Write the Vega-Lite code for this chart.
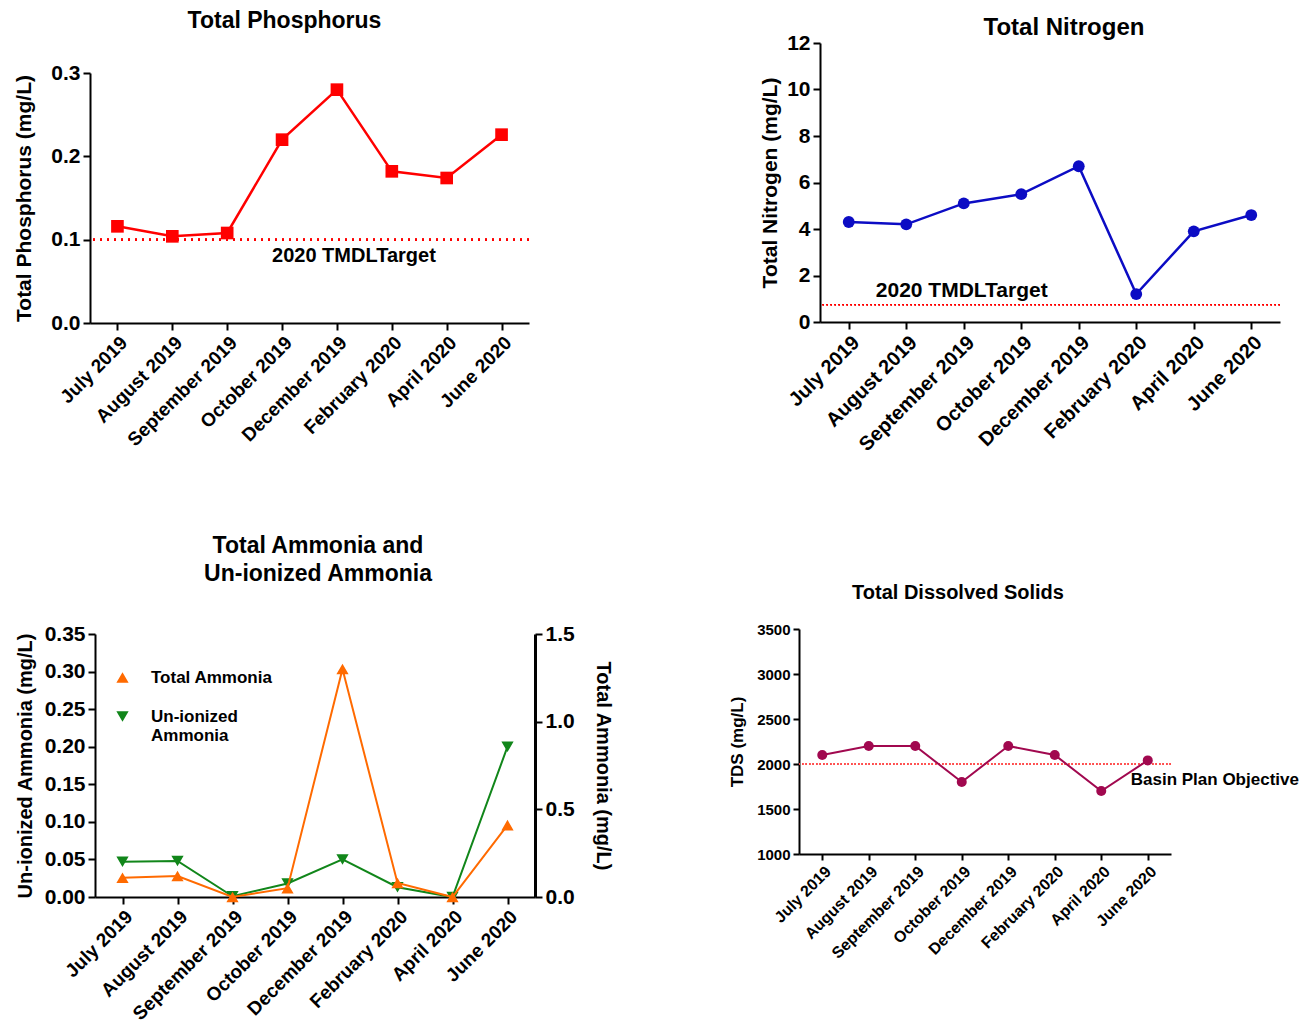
{
  "$schema": "https://vega.github.io/schema/vega-lite/v6.json",
  "autosize": {"type": "none"},
  "padding": {"left": 90, "top": 43, "right": 1225, "bottom": 980},
  "background": "white",
  "config": {
    "font": "Liberation Sans",
    "view": {"stroke": null},
    "axis": {"domainColor": "black", "domainWidth": 2, "tickColor": "black", "tickWidth": 2, "tickSize": 7, "labelColor": "black", "labelFontWeight": "bold", "titleColor": "black", "titleFontWeight": "bold", "grid": false, "labelPadding": 3},
    "title": {"fontWeight": "bold", "color": "black", "anchor": "middle"}
  },
  "datasets": {
    "tp": [
      {"month": "July 2019", "tp": 0.116},
      {"month": "August 2019", "tp": 0.104},
      {"month": "September 2019", "tp": 0.108},
      {"month": "October 2019", "tp": 0.22},
      {"month": "December 2019", "tp": 0.28},
      {"month": "February 2020", "tp": 0.182},
      {"month": "April 2020", "tp": 0.174},
      {"month": "June 2020", "tp": 0.226}
    ],
    "tn": [
      {"month": "July 2019", "tn": 4.3},
      {"month": "August 2019", "tn": 4.2},
      {"month": "September 2019", "tn": 5.1},
      {"month": "October 2019", "tn": 5.5},
      {"month": "December 2019", "tn": 6.7},
      {"month": "February 2020", "tn": 1.2},
      {"month": "April 2020", "tn": 3.9},
      {"month": "June 2020", "tn": 4.6}
    ],
    "amm": [
      {"month": "July 2019", "series": "Un-ionized Ammonia", "value": 0.047},
      {"month": "August 2019", "series": "Un-ionized Ammonia", "value": 0.048},
      {"month": "September 2019", "series": "Un-ionized Ammonia", "value": 0.001},
      {"month": "October 2019", "series": "Un-ionized Ammonia", "value": 0.018},
      {"month": "December 2019", "series": "Un-ionized Ammonia", "value": 0.05},
      {"month": "February 2020", "series": "Un-ionized Ammonia", "value": 0.013},
      {"month": "April 2020", "series": "Un-ionized Ammonia", "value": 0.0},
      {"month": "June 2020", "series": "Un-ionized Ammonia", "value": 0.2},
      {"month": "July 2019", "series": "Total Ammonia", "value": 0.11},
      {"month": "August 2019", "series": "Total Ammonia", "value": 0.12},
      {"month": "September 2019", "series": "Total Ammonia", "value": 0.0},
      {"month": "October 2019", "series": "Total Ammonia", "value": 0.05},
      {"month": "December 2019", "series": "Total Ammonia", "value": 1.3},
      {"month": "February 2020", "series": "Total Ammonia", "value": 0.08},
      {"month": "April 2020", "series": "Total Ammonia", "value": 0.0},
      {"month": "June 2020", "series": "Total Ammonia", "value": 0.41}
    ],
    "tds": [
      {"month": "July 2019", "tds": 2100},
      {"month": "August 2019", "tds": 2200},
      {"month": "September 2019", "tds": 2200},
      {"month": "October 2019", "tds": 1800},
      {"month": "December 2019", "tds": 2200},
      {"month": "February 2020", "tds": 2100},
      {"month": "April 2020", "tds": 1700},
      {"month": "June 2020", "tds": 2040}
    ]
  },
  "hconcat": [
    {
      "vconcat": [
        {"width": 1, "height": 30, "data": {"values": [{"a": 0}]}, "mark": {"type": "text", "text": ""}},
        {
          "vconcat": [
            {
              "width": 439, "height": 250,
              "title": {"text": "Total Phosphorus", "fontSize": 23, "dx": -25, "offset": 29},
              "data": {"name": "tp"},
              "encoding": {
                "x": {"field": "month", "type": "ordinal", "sort": null, "scale": {"type": "point", "padding": 0.5, "domain": ["July 2019","August 2019","September 2019","October 2019","December 2019","February 2020","April 2020","June 2020"]}, "axis": {"title": null, "labelAngle": -45, "labelFontSize": 19}}
              },
              "layer": [
                {"mark": {"type": "rule", "color": "#ff0000", "strokeDash": [2, 5], "strokeWidth": 2}, "encoding": {"y": {"datum": 0.1, "type": "quantitative"}, "x": null}},
                {"mark": {"type": "line", "color": "#ff0000", "strokeWidth": 2.5},
                 "encoding": {"y": {"field": "tp", "type": "quantitative", "scale": {"domain": [0, 0.3], "nice": false}, "axis": {"values": [0, 0.1, 0.2, 0.3], "format": ".1f", "labelFontSize": 21, "title": "Total Phosphorus (mg/L)", "titleFontSize": 21, "titlePadding": 16}}}},
                {"mark": {"type": "point", "shape": "square", "filled": true, "color": "#ff0000", "size": 160, "opacity": 1},
                 "encoding": {"y": {"field": "tp", "type": "quantitative"}}},
                {"data": {"values": [{"month": "December 2019", "v": 0.0804, "label": "2020 TMDLTarget"}]},
                 "mark": {"type": "text", "fontSize": 20, "fontWeight": "bold", "dx": 17, "baseline": "middle", "color": "black"},
                 "encoding": {"y": {"field": "v", "type": "quantitative"}, "text": {"field": "label"}}}
              ]
            },
            {
              "hconcat": [
                {"width": 5, "height": 1, "data": {"values": [{"a": 0}]}, "mark": {"type": "text", "text": ""}},
                {
                  "width": 440, "height": 263,
                  "title": {"text": ["Total Ammonia and", "Un-ionized Ammonia"], "fontSize": 23, "lineHeight": 28, "dx": 3, "offset": 37},
                  "data": {"name": "amm"},
                  "encoding": {
                    "x": {"field": "month", "type": "ordinal", "sort": null, "scale": {"type": "point", "padding": 0.5, "domain": ["July 2019","August 2019","September 2019","October 2019","December 2019","February 2020","April 2020","June 2020"]}, "axis": {"title": null, "labelAngle": -45, "labelFontSize": 19}}
                  },
                  "layer": [
                    {
                      "transform": [{"filter": "datum.series === 'Un-ionized Ammonia'"}],
                      "encoding": {"y": {"field": "value", "type": "quantitative", "scale": {"domain": [0, 0.35], "nice": false}, "axis": {"values": [0, 0.05, 0.1, 0.15, 0.2, 0.25, 0.3, 0.35], "format": ".2f", "labelFontSize": 21, "title": "Un-ionized Ammonia (mg/L)", "titleFontSize": 20, "titlePadding": 9}}},
                      "layer": [
                        {"mark": {"type": "line", "color": "#11861a", "strokeWidth": 2}},
                        {"mark": {"type": "point", "filled": true, "size": 150, "opacity": 1},
                         "encoding": {
                           "color": {"field": "series", "type": "nominal", "scale": {"domain": ["Total Ammonia", "Un-ionized Ammonia"], "range": ["#ff6a00", "#11861a"]}, "legend": {"orient": "none", "legendX": 24, "legendY": 626, "title": null, "labelFontSize": 17, "labelFontWeight": "bold", "labelColor": "black", "symbolSize": 150, "rowPadding": 21, "labelOffset": 20, "labelExpr": "datum.label === 'Un-ionized Ammonia' ? ['Un-ionized', ' Ammonia'] : datum.label", "encode": {"symbols": {"update": {"stroke": {"signal": "datum.value === 'Total Ammonia' ? '#ff6a00' : '#11861a'"}, "strokeWidth": {"value": 2}, "strokeOpacity": {"value": 1}}}}}},
                           "shape": {"field": "series", "type": "nominal", "scale": {"domain": ["Total Ammonia", "Un-ionized Ammonia"], "range": ["M-2.2,0H2.2M-1,0.866L1,0.866L0,-0.866Z", "M-2.2,0H2.2M-1,-0.866L1,-0.866L0,0.866Z"]}}
                         }}
                      ]
                    },
                    {
                      "transform": [{"filter": "datum.series === 'Total Ammonia'"}],
                      "encoding": {"y": {"field": "value", "type": "quantitative", "scale": {"domain": [0, 1.5], "nice": false}, "axis": {"orient": "right", "values": [0, 0.5, 1, 1.5], "format": ".1f", "labelFontSize": 21, "domainWidth": 3, "title": "Total Ammonia (mg/L)", "titleFontSize": 20, "titlePadding": 18}}},
                      "layer": [
                        {"mark": {"type": "line", "color": "#ff6a00", "strokeWidth": 2}},
                        {"mark": {"type": "point", "filled": true, "size": 150, "opacity": 1},
                         "encoding": {
                           "color": {"field": "series", "type": "nominal", "scale": {"domain": ["Total Ammonia", "Un-ionized Ammonia"], "range": ["#ff6a00", "#11861a"]}},
                           "shape": {"field": "series", "type": "nominal", "scale": {"domain": ["Total Ammonia", "Un-ionized Ammonia"], "range": ["M-2.2,0H2.2M-1,0.866L1,0.866L0,-0.866Z", "M-2.2,0H2.2M-1,-0.866L1,-0.866L0,0.866Z"]}}
                         }}
                      ]
                    }
                  ],
                  "resolve": {"scale": {"y": "independent"}, "axis": {"y": "independent"}}
                }
              ],
              "spacing": 0,
              "bounds": "flush"
            }
          ],
          "spacing": 311,
          "bounds": "flush"
        }
      ],
      "spacing": 0,
      "bounds": "flush"
    },
    {
      "vconcat": [
        {
          "hconcat": [
            {"width": 21, "height": 1, "data": {"values": [{"a": 0}]}, "mark": {"type": "text", "text": ""}},
            {
              "width": 460, "height": 279,
              "title": {"text": "Total Nitrogen", "fontSize": 24, "dx": 14, "offset": -8},
              "data": {"name": "tn"},
              "encoding": {
                "x": {"field": "month", "type": "ordinal", "sort": null, "scale": {"type": "point", "padding": 0.5, "domain": ["July 2019","August 2019","September 2019","October 2019","December 2019","February 2020","April 2020","June 2020"]}, "axis": {"title": null, "labelAngle": -45, "labelFontSize": 20}}
              },
              "layer": [
                {"mark": {"type": "rule", "color": "#ff0000", "strokeDash": [1.5, 2.5], "strokeWidth": 1.2}, "encoding": {"y": {"datum": 0.75, "type": "quantitative"}, "x": null}},
                {"mark": {"type": "line", "color": "#0c0cc4", "strokeWidth": 2.5},
                 "encoding": {"y": {"field": "tn", "type": "quantitative", "scale": {"domain": [0, 12], "nice": false}, "axis": {"values": [0, 2, 4, 6, 8, 10, 12], "labelFontSize": 21, "title": "Total Nitrogen (mg/L)", "titleFontSize": 21, "titlePadding": 6}}}},
                {"mark": {"type": "circle", "color": "#0c0cc4", "size": 140, "opacity": 1},
                 "encoding": {"y": {"field": "tn", "type": "quantitative"}}},
                {"data": {"values": [{"month": "September 2019", "v": 1.33, "label": "2020 TMDLTarget"}]},
                 "mark": {"type": "text", "fontSize": 21, "fontWeight": "bold", "dx": -2, "baseline": "middle", "color": "black"},
                 "encoding": {"y": {"field": "v", "type": "quantitative"}, "text": {"field": "label"}}}
              ]
            }
          ],
          "spacing": 0,
          "bounds": "flush"
        },
        {
          "width": 372, "height": 225,
          "title": {"text": "Total Dissolved Solids", "fontSize": 20, "dx": -27, "offset": 19},
          "data": {"name": "tds"},
          "encoding": {
            "x": {"field": "month", "type": "ordinal", "sort": null, "scale": {"type": "point", "padding": 0.5, "domain": ["July 2019","August 2019","September 2019","October 2019","December 2019","February 2020","April 2020","June 2020"]}, "axis": {"title": null, "labelAngle": -45, "labelFontSize": 16, "tickSize": 6}}
          },
          "layer": [
            {"mark": {"type": "rule", "color": "#ff4d4d", "strokeDash": [1.5, 2], "strokeWidth": 1.2}, "encoding": {"y": {"datum": 2000, "type": "quantitative"}, "x": null}},
            {"mark": {"type": "line", "color": "#a1084f", "strokeWidth": 2},
             "encoding": {"y": {"field": "tds", "type": "quantitative", "scale": {"domain": [1000, 3500], "nice": false, "zero": false}, "axis": {"values": [1000, 1500, 2000, 2500, 3000, 3500], "format": "d", "labelFontSize": 15, "tickSize": 6, "title": "TDS (mg/L)", "titleFontSize": 17, "titlePadding": 10}}}},
            {"mark": {"type": "circle", "color": "#a1084f", "size": 100, "opacity": 1},
             "encoding": {"y": {"field": "tds", "type": "quantitative"}}},
            {"data": {"values": [{"month": "June 2020", "v": 1822, "label": "Basin Plan Objective"}]},
             "mark": {"type": "text", "fontSize": 17, "fontWeight": "bold", "dx": -17, "align": "left", "baseline": "middle", "color": "black"},
             "encoding": {"y": {"field": "v", "type": "quantitative"}, "text": {"field": "label"}}}
          ]
        }
      ],
      "spacing": 586,
      "bounds": "flush"
    }
  ],
  "spacing": 709,
  "bounds": "flush"
}
